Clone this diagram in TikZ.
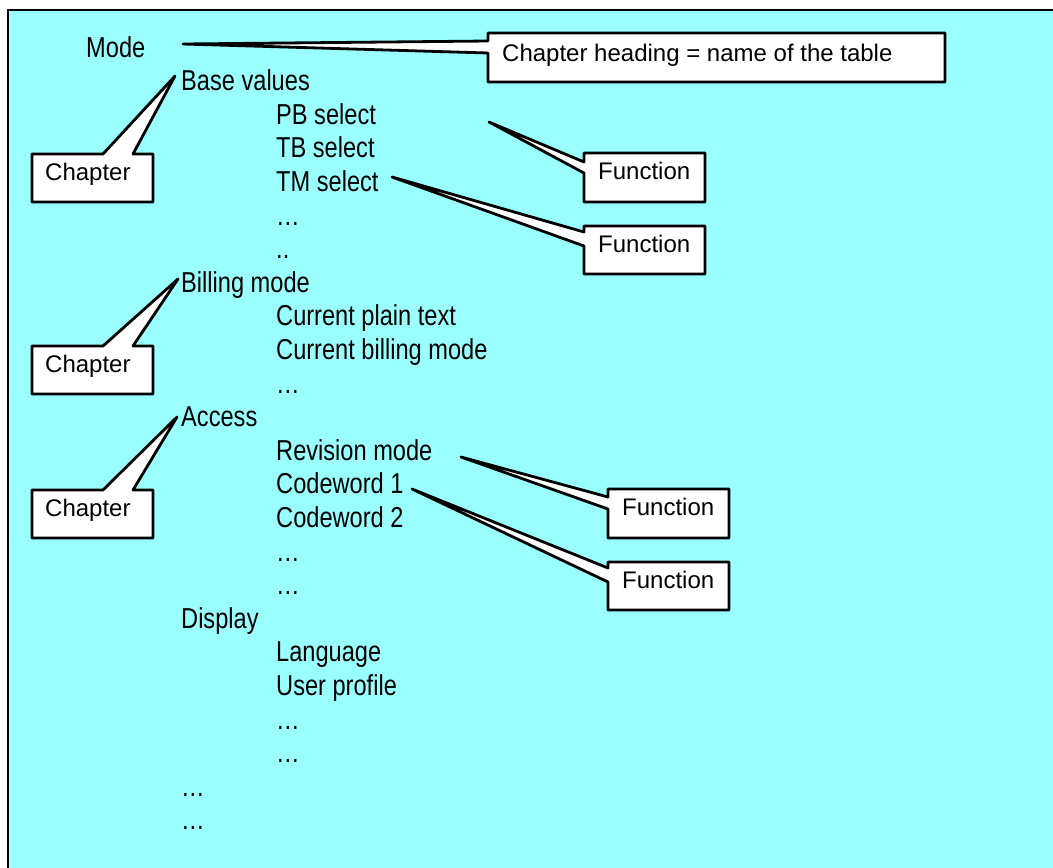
\documentclass[tikz,border=0pt]{standalone}
\usepackage{fontspec}
\setmainfont{Liberation Sans}[FakeStretch=0.82]
\newfontfamily\callfont{Liberation Sans}
\definecolor{bgcyan}{RGB}{153,255,255}
\begin{document}
\begin{tikzpicture}[x=1pt,y=-1pt,
  item/.style={anchor=base west, inner sep=0pt, font=\fontsize{28.8}{34}\selectfont},
  callout/.style={draw=black, fill=white, line width=2.8pt, line join=round},
  ctext/.style={anchor=base west, inner sep=0pt, font=\callfont\fontsize{24}{29}\selectfont}]
\useasboundingbox (0,0) rectangle (1053,868);
\draw[fill=bgcyan, line width=2pt] (8,10) rectangle (1080,900);

% list
\node[item] (mode) at (86,57) {Mode};
\node[item] (base) at (181,90.6) {Base values};
\node[item] (pb) at (276,124.2) {PB select};
\node[item] (tb) at (276,157.8) {TB select};
\node[item] (tm) at (276,191.4) {TM select};
\node[item] (d1) at (276,225) {…};
\node[item] (d2) at (276,258.6) {..};
\node[item] (bill) at (181,292.2) {Billing mode};
\node[item] (cpt) at (276,325.8) {Current plain text};
\node[item] (cbm) at (276,359.4) {Current billing mode};
\node[item] (d3) at (276,393) {…};
\node[item] (acc) at (181,426.6) {Access};
\node[item] (rev) at (276,460.2) {Revision mode};
\node[item] (cw1) at (276,493.8) {Codeword 1};
\node[item] (cw2) at (276,527.4) {Codeword 2};
\node[item] (d4) at (276,561) {…};
\node[item] (d5) at (276,594.6) {…};
\node[item] (disp) at (181,628.2) {Display};
\node[item] (lang) at (276,661.8) {Language};
\node[item] (up) at (276,695.4) {User profile};
\node[item] (d6) at (276,729) {…};
\node[item] (d7) at (276,762.6) {…};
\node[item] (d8) at (181,796.2) {…};
\node[item] (d9) at (181,829.8) {…};

% callouts
\draw[callout] (488,33) -- (945,33) -- (945,82) -- (488,82) -- (488,53) -- (183,44) -- (488,41) -- cycle;
\node[ctext] (head) at (502,61) {Chapter heading = name of the table};

\draw[callout] (32,154) -- (103,154) -- (175,76) -- (133,154) -- (153,154) -- (153,202) -- (32,202) -- cycle;
\node[ctext] (ch1) at (45,180) {Chapter};
\draw[callout] (32,346) -- (103,346) -- (178,279) -- (133,346) -- (153,346) -- (153,394) -- (32,394) -- cycle;
\node[ctext] (ch2) at (45,372) {Chapter};
\draw[callout] (32,490) -- (103,490) -- (177,417) -- (133,490) -- (153,490) -- (153,538) -- (32,538) -- cycle;
\node[ctext] (ch3) at (45,516) {Chapter};

\draw[callout] (584,153) -- (705,153) -- (705,202) -- (584,202) -- (584,173) -- (489,122) -- (584,162) -- cycle;
\node[ctext] (f1) at (598,179) {Function};
\draw[callout] (584,226) -- (705,226) -- (705,274) -- (584,274) -- (584,246) -- (392,177) -- (584,232) -- cycle;
\node[ctext] (f2) at (598,252) {Function};
\draw[callout] (608,489) -- (729,489) -- (729,538) -- (608,538) -- (608,509) -- (461,457) -- (608,497) -- cycle;
\node[ctext] (f3) at (622,515) {Function};
\draw[callout] (608,562) -- (729,562) -- (729,610) -- (608,610) -- (608,582) -- (412,489) -- (608,568) -- cycle;
\node[ctext] (f4) at (622,588) {Function};
\end{tikzpicture}
\end{document}
